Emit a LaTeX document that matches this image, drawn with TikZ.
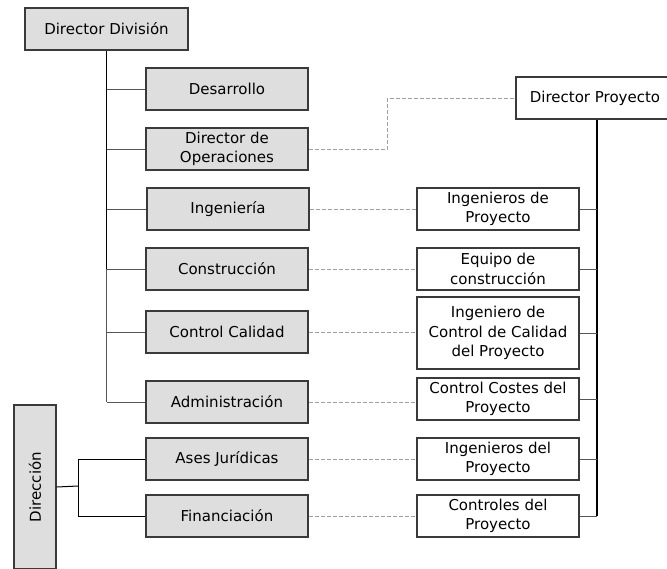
\documentclass[tikz,border=0pt]{standalone}
\usepackage{fontspec}
\setmainfont{DejaVu Sans}
\definecolor{boxfill}{HTML}{DEDEDE}
\definecolor{boxline}{HTML}{3A3A3A}
\definecolor{treegray}{HTML}{555555}
\definecolor{linkgray}{HTML}{A0A0A0}
\begin{document}
\begin{tikzpicture}[x=1pt,y=-1pt,
  gbox/.style={draw=boxline, fill=boxfill, line width=1.1pt, minimum width=162pt, minimum height=42pt, inner sep=0pt, align=center, font=\fontsize{15}{19.7}\selectfont},
  wbox/.style={gbox, fill=white},
  treeline/.style={line width=1pt, draw=treegray},
  trunk/.style={line width=1.6pt, draw=black},
  linkdash/.style={line width=0.7pt, draw=linkgray, dash pattern=on 4pt off 2pt}
]
\useasboundingbox (0,0) rectangle (667,568);
% left column
\node[gbox, minimum width=163pt] (dd) at (106.5,29) {Director División};
\node[gbox] (des) at (227,89) {Desarrollo};
\node[gbox] (ops) at (227,149) {Director de\\Operaciones};
\node[gbox] (ing) at (228,209) {Ingeniería};
\node[gbox] (con) at (227,269) {Construcción};
\node[gbox] (cal) at (227,332) {Control Calidad};
\node[gbox] (adm) at (227,402) {Administración};
\node[gbox] (jur) at (227,459) {Ases Jurídicas};
\node[gbox] (fin) at (227,516) {Financiación};
\node[gbox, rotate=90, minimum width=164pt, minimum height=42pt] (dir) at (35,487) {Dirección};
% right column
\node[wbox, minimum width=158pt] (dp) at (595,98) {Director Proyecto};
\node[wbox] (ip) at (498,209) {Ingenieros de\\Proyecto};
\node[wbox] (ec) at (498,269) {Equipo de\\construcción};
\node[wbox, minimum height=72pt] (cq) at (498,333) {Ingeniero de\\Control de Calidad\\del Proyecto};
\node[wbox] (cc) at (498,399) {Control Costes del\\Proyecto};
\node[wbox] (idp) at (498,459) {Ingenieros del\\Proyecto};
\node[wbox] (cp) at (498,516) {Controles del\\Proyecto};
% division tree
\draw[trunk] (dd.south) -- (dd.south |- con.west);
\draw[line width=1.4pt, draw=treegray] (dd.south |- con.west) -- (dd.south |- adm.west);
\foreach \n in {des,ops,ing,con,cal,adm}
  \draw[treeline] (dd.south |- \n.west) -- (\n.west);
% direccion tree
\coordinate (dj) at (78,486);
\draw[line width=1pt] (dir.south) -- (dj);
\draw[line width=1pt] (dj |- jur.west) -- (dj |- fin.west);
\draw[line width=1pt] (dj |- jur.west) -- (jur.west);
\draw[line width=1pt] (dj |- fin.west) -- (fin.west);
% project tree
\coordinate (pv) at (597,0);
\draw[trunk] (pv |- dp.south) -- (pv |- cp.east);
\foreach \n in {ip,ec,cq,cc,idp,cp}
  \draw[treeline] (\n.east) -- (pv |- \n.east);
% dashed links
\draw[linkdash] (ops.east) -- ++(79,0) |- (dp.west);
\draw[linkdash] (ing.east) -- (ip.west);
\draw[linkdash] (con.east) -- (con.east -| ec.west);
\draw[linkdash] (cal.east) -- (cal.east -| cq.west);
\draw[linkdash] (adm.east) -- (adm.east -| cc.west);
\draw[linkdash] (jur.east) -- (idp.west);
\draw[linkdash] (fin.east) -- (cp.west);
\end{tikzpicture}
\end{document}
